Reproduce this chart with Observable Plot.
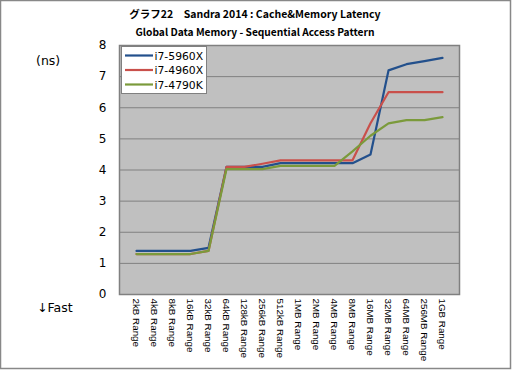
<!DOCTYPE html>
<html><head><meta charset="utf-8">
<script src="https://cdn.jsdelivr.net/npm/d3@7"></script>
<script src="https://cdn.jsdelivr.net/npm/@observablehq/plot@0.6"></script>
<style>body{margin:0;background:#fff} svg{display:block}</style>
</head><body><div id="chart"></div>
<script>
const categories = ["2kB Range","4kB Range","8kB Range","16kB Range","32kB Range","64kB Range","128kB Range","256kB Range","512kB Range","1MB Range","2MB Range","4MB Range","8MB Range","16MB Range","32MB Range","64MB Range","256MB Range","1GB Range"];
const series = ["i7-5960X","i7-4960X","i7-4790K"];
const colors = ["#23508c","#c9504b","#7b9a3b"];
const v5960X = [1.4,1.4,1.4,1.4,1.5,4.1,4.1,4.1,4.22,4.22,4.22,4.22,4.22,4.5,7.2,7.4,7.5,7.6];
const v4960X = [1.3,1.3,1.3,1.3,1.4,4.1,4.1,4.2,4.31,4.31,4.31,4.31,4.31,5.5,6.5,6.5,6.5,6.5];
const v4790K = [1.3,1.3,1.3,1.3,1.4,4.03,4.03,4.03,4.13,4.13,4.13,4.13,4.6,5.1,5.5,5.6,5.6,5.7];
const yTicks = [0,1,2,3,4,5,6,7,8];
const title = "グラフ22　Sandra 2014 : Cache&Memory Latency";
const subtitle = "Global Data Memory - Sequential Access Pattern";

const valuesBySeries = [v5960X, v4960X, v4790K];
const data = series.flatMap((s, i) => categories.map((c, j) => ({series: s, cat: c, value: valuesBySeries[i][j]})));

const chart = Plot.plot({
  width: 512, height: 370,
  marginLeft: 119, marginRight: 53, marginTop: 45, marginBottom: 76,
  style: {fontFamily: "'Liberation Sans', sans-serif", background: "#fff", color: "#000"},
  x: {type: "point", domain: categories, padding: 0.5, label: null},
  y: {domain: [0, 8], label: null},
  color: {domain: series, range: colors},
  marks: [
    Plot.frame({fill: "#c0c0c0"}),
    Plot.gridY(yTicks, {stroke: "#808080", strokeOpacity: 1}),
    Plot.frame({stroke: "#808080", strokeWidth: 1.5}),
    Plot.line(data, {x: "cat", y: "value", z: "series", stroke: "series", strokeWidth: 2.2}),
    Plot.axisY(yTicks, {tickSize: 0, tickPadding: 13, fontSize: 12, fontFamily: "'DejaVu Sans', sans-serif"}),
    Plot.axisX({tickRotate: 90, tickSize: 0, tickPadding: 4, fontSize: 9.8, fill: "#000"})
  ]
});

const svg = d3.select(chart);
svg.append("rect").attr("x", 0.5).attr("y", 0.5).attr("width", 510).attr("height", 368)
  .attr("fill", "none").attr("stroke", "#888").attr("stroke-width", 1.5);
svg.append("text").attr("x", 255).attr("y", 18).attr("text-anchor", "middle")
  .attr("font-family", "'Noto Sans CJK JP', sans-serif").attr("font-weight", "bold").attr("font-size", 10.5).text(title);
svg.append("text").attr("x", 255).attr("y", 36).attr("text-anchor", "middle")
  .attr("font-family", "'Noto Sans CJK JP', sans-serif").attr("font-weight", "bold").attr("font-size", 10.2).text(subtitle);
svg.append("text").attr("x", 36).attr("y", 65).attr("text-anchor", "start")
  .attr("font-family", "'DejaVu Sans', sans-serif").attr("font-size", 12.5).text("(ns)");
svg.append("text").attr("x", 37).attr("y", 312).attr("text-anchor", "start")
  .attr("font-family", "'DejaVu Sans', sans-serif").attr("font-size", 12.5).text("↓Fast");

const lg = svg.append("g");
lg.append("rect").attr("x", 121.5).attr("y", 46.5).attr("width", 85).attr("height", 47)
  .attr("fill", "#fff").attr("stroke", "#808080");
series.forEach((s, i) => {
  const y = 55.5 + i * 14.5;
  lg.append("line").attr("x1", 125).attr("x2", 153).attr("y1", y).attr("y2", y)
    .attr("stroke", colors[i]).attr("stroke-width", 2.2);
  lg.append("text").attr("x", 154.5).attr("y", y + 4).attr("font-size", 10.8).attr("text-anchor", "start")
    .attr("font-family", "'DejaVu Sans', sans-serif").text(s);
});

document.getElementById("chart").append(chart);
</script>
</body></html>
